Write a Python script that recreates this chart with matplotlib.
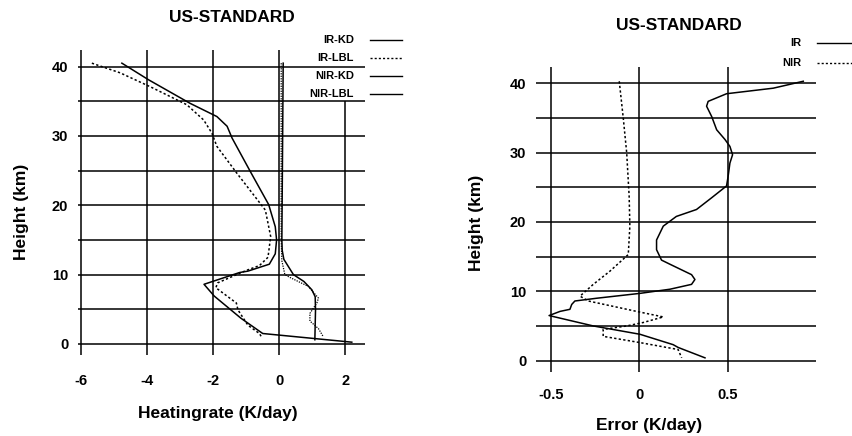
import numpy as np
import matplotlib
matplotlib.use("Agg")
import matplotlib.pyplot as plt
from matplotlib.lines import Line2D

# --- left panel: heating rates (K/day) vs height (km)
ir_kd_z = [40.5, 38.1, 34.7, 32.8, 31.4, 29.7, 24.9, 20.1, 16.9, 15.0, 13.0,
           11.5, 10.5, 10.3, 8.6, 6.9, 3.7, 1.5, 0.25]
ir_kd_x = [-4.77, -3.96, -2.7, -1.89, -1.58, -1.43, -0.88, -0.32, -0.12, -0.08,
           -0.12, -0.3, -0.95, -1.2, -2.28, -1.97, -1.16, -0.5, 2.2]

ir_lbl_z = [40.5, 39.1, 37.1, 34.5, 32.3, 30.4, 28.5, 24.6, 19.3, 15.5, 12.5,
            11.3, 10.6, 8.8, 8.1, 5.9, 4.9, 2.7, 1.5, 1.1]
ir_lbl_x = [-5.68, -4.82, -3.91, -2.8, -2.29, -2.04, -1.89, -1.28, -0.42, -0.26,
            -0.34, -0.6, -1.0, -1.87, -1.92, -1.3, -1.25, -0.95, -0.6, -0.55]

nir_kd_z = [40.5, 15.0, 13.5, 12.2, 10.0, 9.0, 7.8, 6.8, 4.9, 0.6]
nir_kd_x = [0.12, 0.08, 0.09, 0.14, 0.43, 0.75, 0.99, 1.09, 1.1, 1.08]

nir_lbl_z = [40.5, 15.0, 13.5, 12.0, 10.0, 9.6, 8.3, 6.6, 5.9, 4.4, 3.3, 2.2, 1.0]
nir_lbl_x = [0.06, 0.06, 0.07, 0.08, 0.17, 0.32, 0.88, 1.19, 1.14, 0.93, 0.93,
             1.19, 1.34]

# --- right panel: errors (K/day)
err_ir_z = [40.3, 39.3, 38.5, 37.4, 36.7, 35.2, 33.3, 31.9, 30.9, 29.7, 28.5,
            26.6, 25.2, 23.5, 21.8, 20.8, 19.4, 17.4, 16.0, 14.5, 13.9, 12.4,
            11.7, 11.0, 10.3, 9.7, 9.0, 8.6, 8.1, 7.4, 7.1, 6.5, 5.0, 3.8,
            2.3, 1.9, 0.4]
err_ir_x = [0.928, 0.758, 0.494, 0.39, 0.381, 0.41, 0.438, 0.485, 0.513, 0.528,
            0.513, 0.503, 0.494, 0.41, 0.324, 0.21, 0.136, 0.098, 0.098, 0.126,
            0.174, 0.296, 0.315, 0.296, 0.174, 0.004, -0.24, -0.364, -0.382,
            -0.392, -0.448, -0.51, -0.26, 0.004, 0.192, 0.22, 0.372]

err_nir_z = [40.3, 34.9, 30.0, 23.7, 19.4, 15.3, 12.9, 11.0, 9.3, 8.6, 7.1,
             6.3, 5.5, 5.0, 4.5, 3.5, 2.6, 1.6, 0.4]
err_nir_x = [-0.113, -0.09, -0.071, -0.057, -0.053, -0.062, -0.166, -0.26,
             -0.335, -0.288, -0.015, 0.136, 0.023, -0.071, -0.204, -0.204,
             0.004, 0.22, 0.24]

left_xticks = [-6, -4, -2, 0, 2]
right_xticks = [-0.5, 0, 0.5]
right_xlabels = ["-0.5", "0", "0.5"]
yticks = [0, 10, 20, 30, 40]
hgrid = [0, 5, 10, 15, 20, 25, 30, 35, 40]

plt.rcParams["font.family"] = ["Liberation Sans", "DejaVu Sans"]
plt.rcParams["font.weight"] = "bold"

W, H = 853, 436
fig = plt.figure(figsize=(W / 100, H / 100), dpi=100)


def px(x, y):
    return x / W, 1 - y / H


def setup(ax, xticks, xlabels, xpad):
    for s in ax.spines.values():
        s.set_visible(False)
    for h in hgrid:
        ax.axhline(h, color="black", lw=1.1, zorder=1)
    ax.set_yticks(yticks)
    ax.set_yticklabels([str(v) for v in yticks])
    ax.set_xticks(xticks)
    ax.set_xticklabels(xlabels)
    ax.tick_params(length=0, labelsize=10.5)
    ax.tick_params(axis="y", pad=7)
    ax.tick_params(axis="x", pad=xpad)
    ax.set_ylim(-1.6, 42.4)


# left
ax1 = fig.add_axes([78 / W, 1 - 355 / H, 287 / W, 305 / H])
setup(ax1, left_xticks, [str(v) for v in left_xticks], 14)
ax1.set_xlim(-6.1, 2.6)
vtop = [42.4, 42.4, 42.4, 42.4, 35.0]
ax1.vlines(left_xticks, -1.6, vtop, color="black", lw=1.1, zorder=1)
ax1.plot(ir_kd_x, ir_kd_z, color="black", lw=1.1, zorder=3)
ax1.plot(ir_lbl_x, ir_lbl_z, color="black", lw=1.1, ls=(0, (1.5, 1.5)), zorder=3)
ax1.plot(nir_kd_x, nir_kd_z, color="black", lw=1.1, zorder=3)
ax1.plot(nir_lbl_x, nir_lbl_z, color="black", lw=0.9, ls=(0, (1, 1)), zorder=3)

# right
ax2 = fig.add_axes([536 / W, 1 - 371.7 / H, 280 / W, 305 / H])
setup(ax2, right_xticks, right_xlabels, 12)
ax2.set_xlim(-0.584, 1.0)
ax2.vlines(right_xticks, -1.6, 42.4, color="black", lw=1.1, zorder=1)
ax2.plot(err_ir_x, err_ir_z, color="black", lw=1.1, zorder=3)
ax2.plot(err_nir_x, err_nir_z, color="black", lw=1.1, ls=(0, (1.5, 1.5)), zorder=3)

# titles / labels
fig.text(*px(232, 17), "US-STANDARD", ha="center", va="center", fontsize=12.5)
fig.text(*px(679, 25), "US-STANDARD", ha="center", va="center", fontsize=12.5)
fig.text(*px(218, 413), "Heatingrate (K/day)", ha="center", va="center", fontsize=12.5)
fig.text(*px(649, 425), "Error (K/day)", ha="center", va="center", fontsize=12.5)
fig.text(*px(22, 212), "Height (km)", ha="center", va="center", rotation=90, fontsize=12.5)
fig.text(*px(477, 223), "Height (km)", ha="center", va="center", rotation=90, fontsize=12.5)

# hand-placed legends like the original figure
left_leg = [("IR-KD", "-", 40), ("IR-LBL", (0, (1.5, 1.5)), 58),
            ("NIR-KD", "-", 76), ("NIR-LBL", "-", 94)]
for name, ls, y in left_leg:
    fig.text(*px(354, y), name, ha="right", va="center", fontsize=8)
    fig.add_artist(Line2D([370 / W, 402 / W], [1 - y / H, 1 - y / H],
                          color="black", lw=1.0, ls=ls))

right_leg = [("IR", "-", 43), ("NIR", (0, (1.5, 1.5)), 63)]
for name, ls, y in right_leg:
    fig.text(*px(801, y), name, ha="right", va="center", fontsize=8)
    fig.add_artist(Line2D([817 / W, 853 / W], [1 - y / H, 1 - y / H],
                          color="black", lw=1.0, ls=ls))

fig.savefig("out.png", dpi=100)
